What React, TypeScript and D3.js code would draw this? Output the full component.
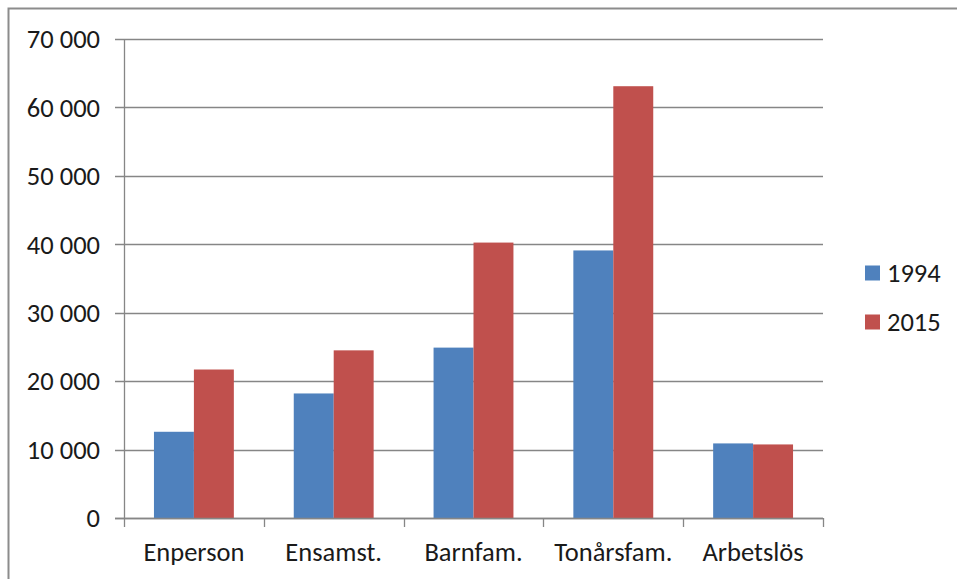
import { useEffect, useRef } from "react";
import * as d3 from "d3";

const categories = ["Enperson", "Ensamst.", "Barnfam.", "Tonårsfam.", "Arbetslös"];
const seriesNames = ["1994", "2015"];
const values1994 = [12600, 18200, 24900, 39100, 10900];
const values2015 = [21700, 24500, 40250, 63100, 10750];
const yTicks = [0, 10000, 20000, 30000, 40000, 50000, 60000, 70000];
const colors = ["#4F81BD", "#C0504D"];

export default function App() {
  const width = 957;
  const height = 579;
  const svgRef = useRef<SVGSVGElement>(null);

  useEffect(() => {
    const margin = { top: 39, right: 134, bottom: 61, left: 124 };
    const innerW = width - margin.left - margin.right;
    const innerH = height - margin.top - margin.bottom;
    const font = "Carlito, Lato, sans-serif";
    const fontSize = 26.5;
    const grey = "#868686";

    const svg = d3.select(svgRef.current);
    svg.selectAll("*").remove();

    // outer frame, clipped at the right and bottom
    svg
      .append("rect")
      .attr("x", 8.5)
      .attr("y", 8.5)
      .attr("width", width + 20)
      .attr("height", height + 20)
      .attr("fill", "white")
      .attr("stroke", "#8c8c8c")
      .attr("stroke-width", 2);

    const g = svg.append("g").attr("transform", `translate(${margin.left},${margin.top})`);

    const x = d3.scaleBand().domain(categories).range([0, innerW]).paddingInner(0).paddingOuter(0);
    // gap width 150% like excel
    const x1 = d3
      .scaleBand()
      .domain(seriesNames)
      .range([0, x.bandwidth()])
      .paddingInner(0)
      .paddingOuter(0.75);
    const y = d3.scaleLinear().domain([0, 70000]).range([innerH, 0]);

    // gridlines + left ticks
    g.append("g")
      .selectAll("line")
      .data(yTicks)
      .join("line")
      .attr("x1", -9)
      .attr("x2", innerW)
      .attr("y1", (d) => Math.round(y(d)) + 0.5)
      .attr("y2", (d) => Math.round(y(d)) + 0.5)
      .attr("stroke", grey)
      .attr("stroke-width", 1.3);

    g.append("g")
      .selectAll("text")
      .data(yTicks)
      .join("text")
      .attr("x", -24)
      .attr("y", (d) => y(d))
      .attr("dy", "0.35em")
      .attr("text-anchor", "end")
      .attr("font-family", font)
      .attr("font-size", fontSize)
      .attr("fill", "#1a1a1a")
      .text((d) => d3.format(",")(d).replace(/,/g, " "));

    // bars
    const rows = categories.map((c, i) => ({ cat: c, vals: [values1994[i], values2015[i]] }));
    g.append("g")
      .selectAll("g")
      .data(rows)
      .join("g")
      .attr("transform", (d) => `translate(${x(d.cat)},0)`)
      .selectAll("rect")
      .data((d) => d.vals.map((v, j) => ({ name: seriesNames[j], v, j })))
      .join("rect")
      .attr("x", (d) => x1(d.name)!)
      .attr("width", x1.bandwidth())
      .attr("y", (d) => y(d.v))
      .attr("height", (d) => innerH - y(d.v))
      .attr("fill", (d) => colors[d.j]);

    // axis lines
    g.append("line")
      .attr("x1", 0.5)
      .attr("x2", 0.5)
      .attr("y1", 0)
      .attr("y2", innerH)
      .attr("stroke", grey)
      .attr("stroke-width", 1.3);
    g.append("line")
      .attr("x1", -9)
      .attr("x2", innerW)
      .attr("y1", innerH + 0.5)
      .attr("y2", innerH + 0.5)
      .attr("stroke", grey)
      .attr("stroke-width", 1.3);

    const bounds = categories.map((c) => x(c)!).concat([innerW]);
    g.append("g")
      .selectAll("line")
      .data(bounds)
      .join("line")
      .attr("x1", (d) => Math.round(d) + 0.5)
      .attr("x2", (d) => Math.round(d) + 0.5)
      .attr("y1", innerH)
      .attr("y2", innerH + 9)
      .attr("stroke", grey)
      .attr("stroke-width", 1.3);

    g.append("g")
      .selectAll("text")
      .data(categories)
      .join("text")
      .attr("x", (d) => x(d)! + x.bandwidth() / 2)
      .attr("y", innerH + 43)
      .attr("text-anchor", "middle")
      .attr("font-family", font)
      .attr("font-size", fontSize)
      .attr("fill", "#1a1a1a")
      .text((d) => d);

    // legend
    const legend = svg
      .append("g")
      .selectAll("g")
      .data(seriesNames)
      .join("g")
      .attr("transform", (_, i) => `translate(865,${273 + i * 49})`);
    legend
      .append("rect")
      .attr("x", 0)
      .attr("y", -7.5)
      .attr("width", 15)
      .attr("height", 15)
      .attr("fill", (_, i) => colors[i]);
    legend
      .append("text")
      .attr("x", 22)
      .attr("y", 0)
      .attr("dy", "0.35em")
      .attr("font-family", font)
      .attr("font-size", fontSize)
      .attr("fill", "#1a1a1a")
      .text((d) => d);
  }, []);

  return (
    <div style={{ position: "fixed", left: 0, top: 0, width, height, overflow: "hidden", background: "white" }}>
      <svg ref={svgRef} width={width} height={height}></svg>
    </div>
  );
}
